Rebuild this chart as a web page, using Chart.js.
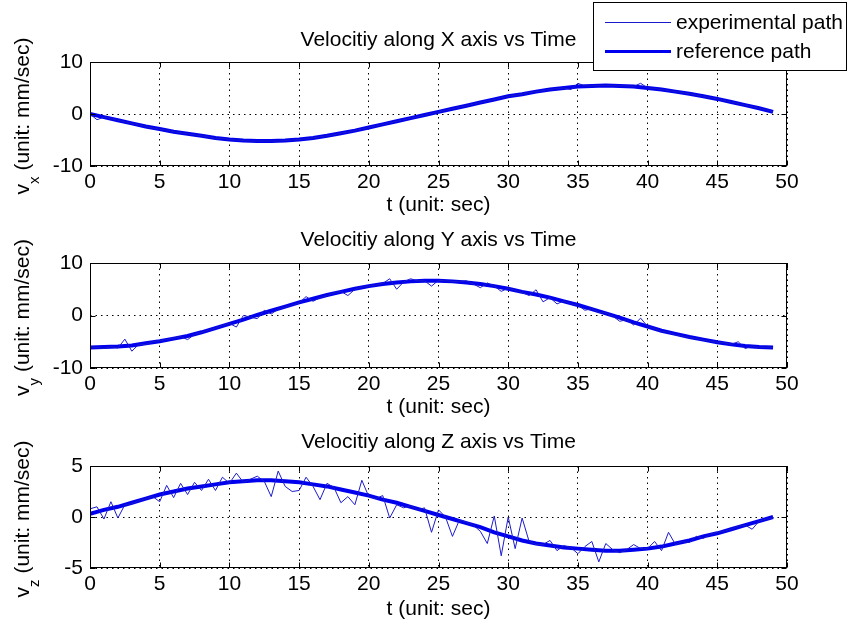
<!DOCTYPE html>
<html><head><meta charset="utf-8">
<script src="https://cdn.jsdelivr.net/npm/chart.js@4.4.1/dist/chart.umd.min.js"></script>
<style>
html,body{margin:0;padding:0;background:#fff}
#wrap{position:relative;width:847px;height:630px;overflow:hidden;background:#fff}
#wrap canvas{position:absolute;left:0;top:0}
</style>
</head><body>
<div id="wrap">
<canvas id="c1" width="847" height="630"></canvas>
<canvas id="c2" width="847" height="630"></canvas>
<canvas id="c3" width="847" height="630"></canvas>
</div>
<script>
// ---------- data ----------
const timeRef = [0,1,2,3,4,5,6,7,8,9,10,11,12,13,14,15,16,17,18,19,20,21,22,23,24,25,26,27,28,29,30,31,32,33,34,35,36,37,38,39,40,41,42,43,44,45,46,47,48,49];
const timeExp = [0,0.5,1,1.5,2,2.5,3,3.5,4,4.5,5,5.5,6,6.5,7,7.5,8,8.5,9,9.5,10,10.5,11,11.5,12,12.5,13,13.5,14,14.5,15,15.5,16,16.5,17,17.5,18,18.5,19,19.5,20,20.5,21,21.5,22,22.5,23,23.5,24,24.5,25,25.5,26,26.5,27,27.5,28,28.5,29,29.5,30,30.5,31,31.5,32,32.5,33,33.5,34,34.5,35,35.5,36,36.5,37,37.5,38,38.5,39,39.5,40,40.5,41,41.5,42,42.5,43,43.5,44,44.5,45,45.5,46,46.5,47,47.5,48,48.5,49];

const vxRef = [0,-0.6,-1.2,-1.8,-2.4,-2.9,-3.4,-3.8,-4.2,-4.6,-4.9,-5.1,-5.2,-5.2,-5.1,-4.9,-4.6,-4.2,-3.7,-3.2,-2.6,-2.0,-1.4,-0.8,-0.2,0.4,1.0,1.6,2.2,2.8,3.4,3.8,4.3,4.7,5.0,5.3,5.4,5.5,5.4,5.3,5.0,4.7,4.3,3.9,3.4,2.9,2.3,1.7,1.1,0.4];
const vxExp = [0.0,-1.1,-0.6,-0.9,-1.2,-1.5,-1.8,-2.1,-2.4,-2.7,
  -2.9,-3.1,-3.4,-3.6,-3.8,-4.0,-4.2,-4.4,-4.7,-4.7,
  -4.9,-5.0,-5.1,-5.2,-5.2,-5.2,-5.2,-5.2,-5.1,-5.0,
  -4.9,-4.8,-4.6,-4.4,-4.2,-4.0,-3.7,-3.5,-3.2,-2.9,
  -2.6,-2.3,-2.0,-1.7,-1.4,-1.1,-0.8,-0.5,-0.2,0.1,
  0.4,0.7,1.0,1.3,1.6,1.9,2.2,2.5,2.8,3.1,
  3.4,3.6,3.8,4.1,4.3,4.5,4.7,4.9,5.0,4.7,
  5.9,5.4,5.4,5.5,5.5,5.5,5.4,5.4,5.3,5.9,
  5.0,4.9,4.7,4.5,4.3,4.1,3.9,3.6,3.4,3.1,
  2.9,2.6,2.3,2.0,1.7,1.4,1.1,0.8,0.4];

const vyRef = [-6.1,-6.0,-5.9,-5.7,-5.3,-4.9,-4.4,-3.9,-3.2,-2.4,-1.6,-0.8,0.1,0.9,1.7,2.5,3.2,3.9,4.5,5.1,5.6,6.0,6.3,6.5,6.6,6.6,6.5,6.3,6.0,5.6,5.1,4.5,4.0,3.4,2.7,2.0,1.2,0.4,-0.4,-1.3,-2.1,-2.9,-3.5,-4.1,-4.6,-5.1,-5.5,-5.8,-6.0,-6.1];
const vyExp = [-6.0,-6.1,-6.3,-5.9,-6.2,-4.5,-6.8,-5.5,-5.5,-5.0,
  -4.8,-4.6,-4.3,-4.0,-4.6,-3.6,-3.2,-2.8,-2.4,-1.9,
  -1.5,-2.2,0.0,-0.3,-0.6,1.0,0.3,1.2,1.6,2.0,
  2.4,3.6,2.7,3.4,3.8,4.3,4.6,3.8,5.0,5.4,
  5.6,5.8,6.1,7.0,5.0,6.4,7.0,6.6,6.6,5.6,
  6.7,6.6,6.5,6.5,6.6,6.0,5.3,6.2,5.6,4.6,
  5.2,4.8,4.4,3.8,4.9,2.6,3.4,2.2,2.8,2.2,
  2.0,1.0,1.3,0.6,0.5,-0.1,-1.1,-0.8,-1.8,-0.5,
  -2.1,-2.5,-3.0,-3.2,-3.7,-3.9,-4.2,-4.4,-4.7,-4.9,
  -5.1,-5.2,-5.5,-5.0,-6.3,-5.8,-6.2,-6.0,-6.1];

const vzRef = [0.3,0.7,1.0,1.4,1.8,2.2,2.5,2.8,3.0,3.2,3.4,3.5,3.6,3.6,3.5,3.4,3.2,3.0,2.7,2.4,2.1,1.7,1.4,1.0,0.6,0.2,-0.2,-0.6,-1.0,-1.5,-1.9,-2.3,-2.6,-2.8,-3.0,-3.1,-3.2,-3.3,-3.3,-3.2,-3.1,-2.9,-2.6,-2.3,-1.9,-1.6,-1.2,-0.8,-0.4,0.0];
const vzExp = [0.8,1.0,-0.2,1.5,-0.1,1.2,1.3,1.6,1.8,2.0,
  1.5,3.1,1.9,3.3,2.2,3.4,2.6,3.7,2.6,3.9,
  3.3,4.3,3.4,3.7,4.0,3.5,2.0,4.5,3.0,2.5,
  2.6,3.9,3.0,1.7,3.3,2.9,1.4,2.0,1.2,3.6,
  2.0,1.8,2.1,-0.1,1.2,0.9,1.1,0.7,0.9,-1.5,
  0.7,0.0,-1.9,-0.3,-0.5,-0.8,-1.4,-2.6,0.1,-3.8,
  0.0,-3.1,-0.1,-2.4,-2.7,-2.7,-2.3,-3.3,-2.8,-3.0,
  -3.6,-2.9,-2.4,-4.4,-2.6,-3.2,-3.5,-3.2,-2.7,-3.1,
  -3.1,-2.4,-3.3,-1.5,-2.7,-2.4,-2.5,-1.9,-2.1,-1.7,
  -1.5,-1.4,-1.2,-0.9,-0.8,-1.2,-0.4,-0.2,-0.1];

const seriesNames = ['experimental path', 'reference path'];
const plotTitles = ['Velocitiy along X axis vs Time', 'Velocitiy along Y axis vs Time', 'Velocitiy along Z axis vs Time'];
const ySubscripts = ['x', 'y', 'z'];
const yLimits = [[-10, 10, 10], [-10, 10, 10], [-5, 5, 5]];
const xLimits = [0, 50, 5];
const xLabel = 't (unit: sec)';
const yLabelTail = ' (unit: mm/sec)';

// ---------- styling ----------
const FONT = "'Liberation Sans', Arial, Helvetica, sans-serif";
const FS = 21;
const EXP_COLOR = '#1a1acc';
const REF_COLOR = '#0000ee';

const pairs = (xs, ys) => xs.map((x, i) => ({x: x, y: ys[i]}));

const matlabAxes = {
  id: 'matlabAxes',
  afterDatasetsDraw(chart, args, opts) {
    const {ctx, chartArea: a, scales: {x, y}} = chart;
    ctx.save();
    ctx.strokeStyle = '#000';
    ctx.lineWidth = 1;
    const L = Math.round(a.left) + 0.5, R = Math.round(a.right) - 0.5;
    const T = Math.round(a.top) + 0.5, B = Math.round(a.bottom) - 0.5;
    ctx.strokeRect(L, T, R - L, B - T);
    ctx.beginPath();
    x.ticks.forEach(t => {
      const px = Math.round(x.getPixelForValue(t.value)) + 0.5;
      ctx.moveTo(px, B); ctx.lineTo(px, B - 5);
      ctx.moveTo(px, T); ctx.lineTo(px, T + 5);
    });
    y.ticks.forEach(t => {
      const py = Math.round(y.getPixelForValue(t.value)) + 0.5;
      ctx.moveTo(L, py); ctx.lineTo(L + 5, py);
      ctx.moveTo(R, py); ctx.lineTo(R - 5, py);
    });
    ctx.stroke();

    // y label with subscript
    const cy = (a.top + a.bottom) / 2 + 2;
    const bx = 29;
    ctx.fillStyle = '#000';
    ctx.textBaseline = 'alphabetic';
    ctx.textAlign = 'left';
    ctx.font = FS + 'px ' + FONT;
    const w1 = ctx.measureText('v').width;
    const w3 = ctx.measureText(yLabelTail).width;
    ctx.font = '15px ' + FONT;
    const w2 = ctx.measureText(opts.sub).width;
    const W = w1 + w2 + w3;
    ctx.translate(bx, cy);
    ctx.rotate(-Math.PI / 2);
    ctx.font = FS + 'px ' + FONT;
    ctx.fillText('v', -W / 2, 0);
    ctx.font = '15px ' + FONT;
    ctx.fillText(opts.sub, -W / 2 + w1, 10);
    ctx.font = FS + 'px ' + FONT;
    ctx.fillText(yLabelTail, -W / 2 + w1 + w2, 0);
    ctx.restore();
  },
  afterDraw(chart, args, opts) {
    if (!opts.legend) return;
    const ctx = chart.ctx;
    ctx.save();
    ctx.fillStyle = '#fff';
    ctx.fillRect(593, 2, 253, 69);
    ctx.strokeStyle = '#000';
    ctx.lineWidth = 1;
    ctx.strokeRect(593.5, 2.5, 253, 68);
    const rows = [22.5, 51.5];
    chart.data.datasets.forEach((ds, i) => {
      ctx.strokeStyle = ds.borderColor;
      ctx.lineWidth = i === 0 ? 1 : 3;
      ctx.beginPath();
      ctx.moveTo(605, rows[i]);
      ctx.lineTo(671, rows[i]);
      ctx.stroke();
      ctx.fillStyle = '#000';
      ctx.font = FS + 'px ' + FONT;
      ctx.textBaseline = 'middle';
      ctx.textAlign = 'left';
      ctx.fillText(ds.label, 676, rows[i] + 1);
    });
    ctx.restore();
  }
};

function makeChart(id, k, expT, expV, refT, refV, lay) {
  const [yMin, yMax, yStep] = yLimits[k];
  return new Chart(document.getElementById(id), {
    type: 'line',
    data: {
      datasets: [
        {label: seriesNames[0], data: pairs(expT, expV), borderColor: EXP_COLOR, backgroundColor: EXP_COLOR, borderWidth: 1, pointRadius: 0, tension: 0, fill: false},
        {label: seriesNames[1], data: pairs(refT, refV), borderColor: REF_COLOR, backgroundColor: REF_COLOR, borderWidth: 4, pointRadius: 0, tension: 0, fill: false}
      ]
    },
    options: {
      responsive: false,
      animation: false,
      events: [],
      layout: {padding: {left: 0, right: 60, top: lay.top, bottom: lay.bottom}},
      plugins: {
        legend: {display: false},
        tooltip: {enabled: false},
        title: {
          display: true, text: plotTitles[k], fullSize: false, color: '#000',
          font: {family: FONT, size: FS, weight: 'normal', lineHeight: 1.2},
          padding: {top: 27.4, bottom: lay.titleGap}
        },
        matlabAxes: {sub: ySubscripts[k], legend: k === 0}
      },
      scales: {
        x: {
          type: 'linear', min: xLimits[0], max: xLimits[1],
          ticks: {stepSize: xLimits[2], color: '#000', padding: 4, maxRotation: 0, font: {family: FONT, size: FS}},
          grid: {color: '#000', lineWidth: 1, drawTicks: false},
          border: {display: false, dash: [1.5, 4]},
          title: {display: true, text: xLabel, color: '#000', padding: {top: 0, bottom: 0}, font: {family: FONT, size: FS, lineHeight: 1.2}},
          afterFit(s) { s.height = lay.xh; }
        },
        y: {
          type: 'linear', min: yMin, max: yMax,
          ticks: {stepSize: yStep, color: '#000', padding: 7, font: {family: FONT, size: FS}},
          grid: {color: '#000', lineWidth: 1, drawTicks: false},
          border: {display: false, dash: [1.5, 4]},
          afterFit(s) { s.width = 90; }
        }
      }
    },
    plugins: [matlabAxes]
  });
}

makeChart('c1', 0, timeExp, vxExp, timeRef, vxRef, {top: 0, titleGap: 9.4, bottom: 412, xh: 52});
makeChart('c2', 1, timeExp, vyExp, timeRef, vyRef, {top: 200, titleGap: 10.4, bottom: 210, xh: 52});
makeChart('c3', 2, timeExp, vzExp, timeRef, vzRef, {top: 402, titleGap: 11.4, bottom: 8, xh: 54});
</script>
</body></html>
